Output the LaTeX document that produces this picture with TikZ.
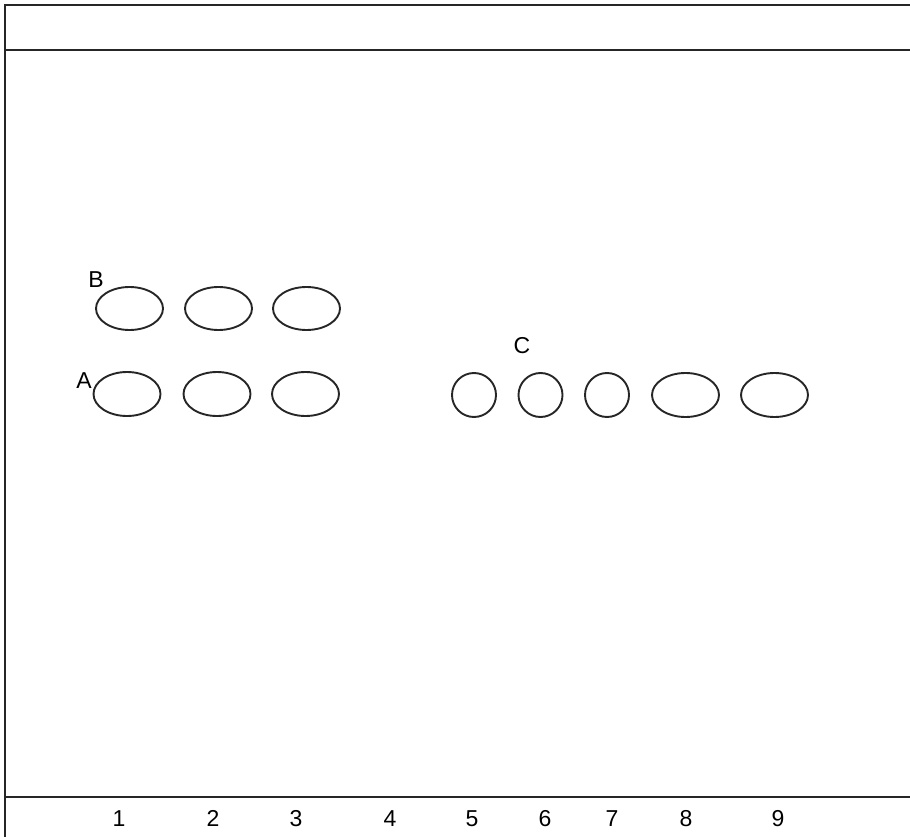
\documentclass[tikz,border=0pt]{standalone}
\usetikzlibrary{shapes.geometric}
\usepackage{fontspec}
\setmainfont{Liberation Sans}
\begin{document}
\begin{tikzpicture}[x=1pt,y=-1pt,
  frame/.style={line width=2.4pt,draw=black!85},
  spot/.style={ellipse,draw=black!85,line width=1.9pt,inner sep=0pt},
  lbl/.style={font=\fontsize{23}{27}\selectfont,inner sep=0pt,anchor=base}]
\useasboundingbox (0,0) rectangle (910,837);
\draw[frame] (910,5) -- (5,5) -- (5,837);
\draw[frame] (5,50) -- (910,50);
\draw[frame] (5,797) -- (910,797);
% B row
\node[spot,minimum width=67pt,minimum height=43pt] (b1) at (129.5,308.5) {};
\node[spot,minimum width=67pt,minimum height=43pt] (b2) at (218.5,308.5) {};
\node[spot,minimum width=67pt,minimum height=43pt] (b3) at (306.5,308.5) {};
% A row
\node[spot,minimum width=67pt,minimum height=44pt] (a1) at (127,394) {};
\node[spot,minimum width=67pt,minimum height=44pt] (a2) at (217,394) {};
\node[spot,minimum width=67pt,minimum height=44pt] (a3) at (305.5,394) {};
% C row
\node[spot,minimum width=44pt,minimum height=44pt] (c1) at (474,395) {};
\node[spot,minimum width=44pt,minimum height=44pt] (c2) at (540.5,395) {};
\node[spot,minimum width=44pt,minimum height=44pt] (c3) at (607,395) {};
\node[spot,minimum width=67pt,minimum height=44pt] (c4) at (685.5,395) {};
\node[spot,minimum width=67pt,minimum height=44pt] (c5) at (774.5,395) {};
% labels
\node[lbl] (lb) at (96,287) {B};
\node[lbl] (la) at (84,388) {A};
\node[lbl] (lc) at (522,353) {C};
% lane numbers
\foreach \n/\x in {1/119,2/213,3/296,4/390,5/472,6/545,7/612,8/686,9/778}
  \node[lbl] (n\n) at (\x,826) {\n};
\end{tikzpicture}
\end{document}
